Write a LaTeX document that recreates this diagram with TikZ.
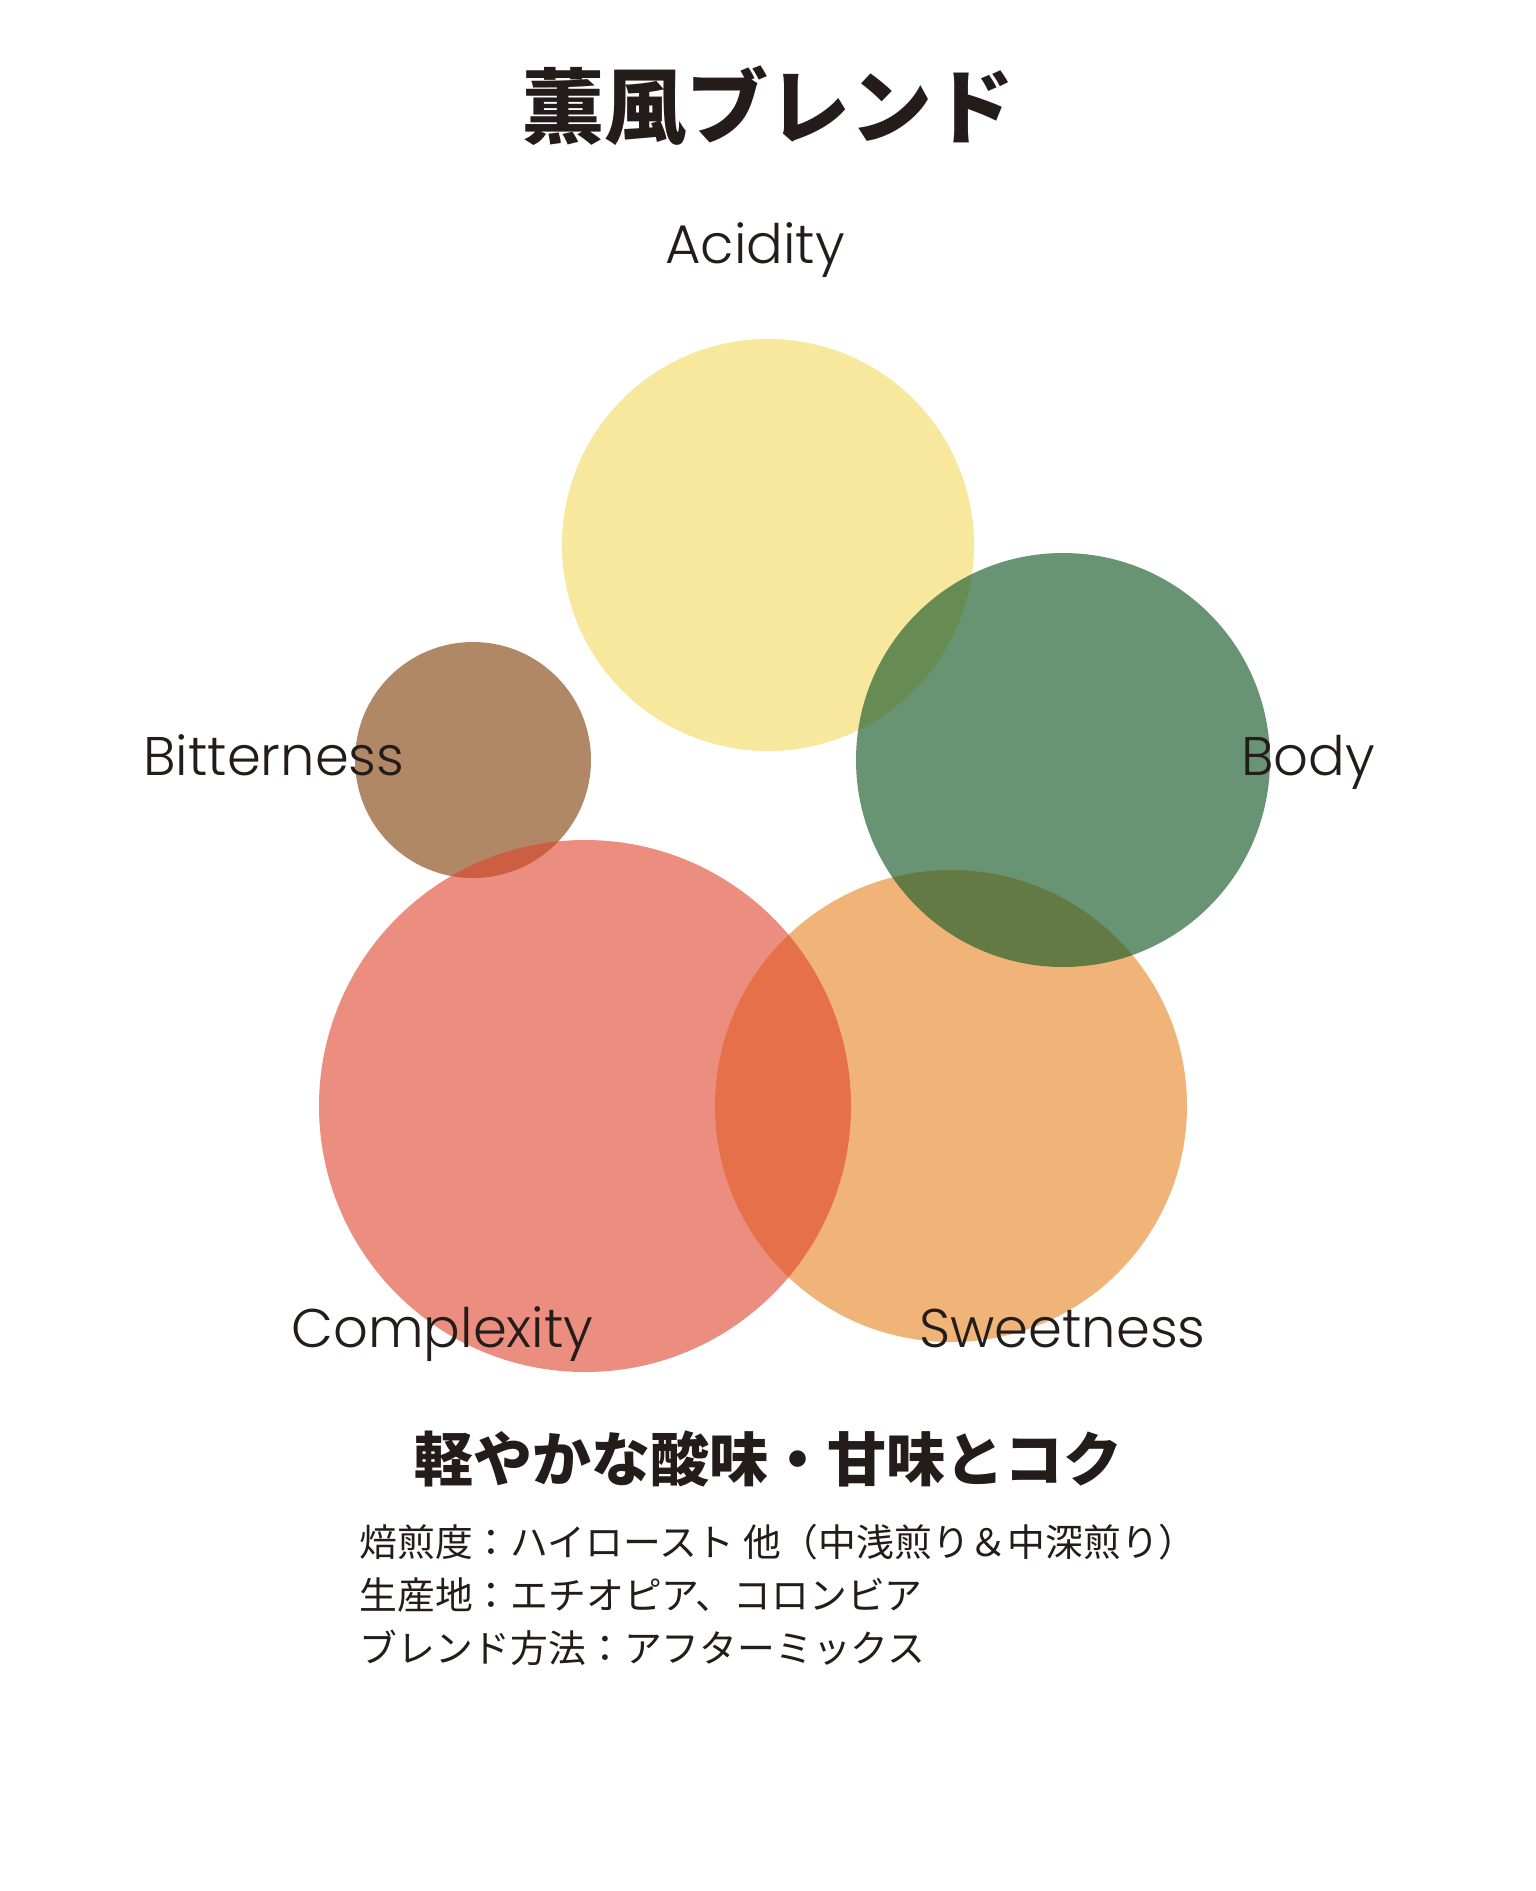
\documentclass[tikz,border=0pt]{standalone}
\usepackage{fontspec}
\setmainfont{Poppins Light}
\newfontfamily\jpfont{Noto Sans CJK JP}
\usetikzlibrary{positioning}

\definecolor{acidYellow}{RGB}{248,232,158}
\definecolor{sweetOrange}{RGB}{240,180,120}
\definecolor{bitterBrown}{RGB}{176,136,102}
\definecolor{complexRed}{RGB}{223,68,43}
\definecolor{bodyGreen}{RGB}{26,91,43}
\definecolor{inkBlack}{RGB}{35,28,26}

\begin{document}
\begin{tikzpicture}[
x=0.5pt, y=-0.5pt,
blob/.style={
circle, draw=none, inner sep=0pt,
minimum size=#1
},
tag/.style={
text=inkBlack, inner sep=0pt,
font=\fontsize{27.2pt}{33pt}\selectfont
},
heading/.style={
text=inkBlack, inner sep=0pt,
font=\jpfont\bfseries\fontsize{41pt}{48pt}\selectfont
},
catch/.style={
text=inkBlack, inner sep=0pt,
font=\jpfont\bfseries\fontsize{29.5pt}{36pt}\selectfont
},
info/.style={
text=inkBlack, inner sep=0pt, anchor=base west,
font=\jpfont\fontsize{18.9pt}{24pt}\selectfont
}
]

\fill[white] (0,0) rectangle (1536,1891);
\useasboundingbox (0,0) rectangle (1536,1891);

% circles
\node[blob=206pt, fill=acidYellow] (acidity) at (768,545) {};
\node[blob=236pt, fill=sweetOrange] (sweetness) at (951,1106) {};
\node[blob=118pt, fill=bitterBrown] (bitterness) at (473,760) {};
\node[blob=266pt, fill=complexRed, fill opacity=0.6] (complexity) at (585,1106) {};
\node[blob=207pt, fill=bodyGreen, fill opacity=0.65] (body) at (1063,760) {};

% labels
\node[tag, anchor=base] (acidityLabel) at (755,263) {Acidity};
\node[tag, anchor=base west] (bitternessLabel) at (143,775) {Bitterness};
\node[tag, anchor=base west] (bodyLabel) at (1241,775) {Body};
\node[tag, anchor=base west] (complexityLabel) at (291,1347) {Complexity};
\node[tag, anchor=base west] (sweetnessLabel) at (919,1347) {Sweetness};

% texts
\node[heading, anchor=base] (title) at (768,137) {薫風ブレンド};
\node[catch, anchor=base] (tagline) at (768,1481) {軽やかな酸味・甘味とコク};

\node[info] (roast) at (359,1556) {焙煎度：ハイロースト 他（中浅煎り＆中深煎り）};
\node[info] (origin) at (359,1609) {生産地：エチオピア、コロンビア};
\node[info] (method) at (359,1662) {ブレンド方法：アフターミックス};

\end{tikzpicture}
\end{document}
